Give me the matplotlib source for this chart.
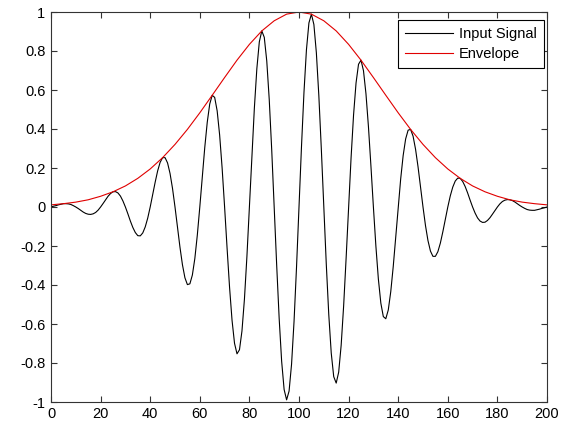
import numpy as np
import matplotlib
matplotlib.use('Agg')
import matplotlib.pyplot as plt
from matplotlib.ticker import FuncFormatter

# Input signal, one sample per unit (x = 0 ... 200)
signal = [
    0.000, 0.004, 0.007, 0.011, 0.014, 0.017, 0.017, 0.016, 0.013, 0.007,
    0.000, -0.008, -0.017, -0.026, -0.033, -0.037, -0.038, -0.035, -0.028, -0.016,
    0.000, 0.018, 0.037, 0.055, 0.069, 0.078, 0.079, 0.072, 0.056, 0.031,
    0.000, -0.035, -0.072, -0.105, -0.131, -0.147, -0.148, -0.133, -0.102, -0.057,
    0.000, 0.064, 0.127, 0.185, 0.229, 0.253, 0.253, 0.226, 0.172, 0.095,
    0.000, -0.104, -0.206, -0.296, -0.363, -0.398, -0.394, -0.349, -0.264, -0.144,
    0.000, 0.155, 0.305, 0.434, 0.528, 0.573, 0.562, 0.493, 0.369, 0.200,
    0.000, -0.211, -0.412, -0.581, -0.699, -0.753, -0.732, -0.636, -0.472, -0.253,
    0.000, 0.262, 0.507, 0.709, 0.847, 0.903, 0.870, 0.749, 0.551, 0.293,
    0.000, -0.298, -0.571, -0.791, -0.936, -0.989, -0.944, -0.806, -0.587, -0.309,
    0.000, 0.309, 0.587, 0.806, 0.944, 0.989, 0.936, 0.791, 0.571, 0.298,
    0.000, -0.293, -0.551, -0.749, -0.870, -0.903, -0.847, -0.709, -0.507, -0.262,
    0.000, 0.253, 0.472, 0.636, 0.732, 0.753, 0.699, 0.581, 0.412, 0.211,
    0.000, -0.200, -0.369, -0.493, -0.562, -0.573, -0.528, -0.434, -0.305, -0.155,
    0.000, 0.144, 0.264, 0.349, 0.394, 0.398, 0.363, 0.296, 0.206, 0.104,
    0.000, -0.095, -0.172, -0.226, -0.253, -0.253, -0.229, -0.185, -0.127, -0.064,
    0.000, 0.057, 0.102, 0.133, 0.148, 0.147, 0.131, 0.105, 0.072, 0.035,
    0.000, -0.031, -0.056, -0.072, -0.079, -0.078, -0.069, -0.055, -0.037, -0.018,
    0.000, 0.016, 0.028, 0.035, 0.038, 0.037, 0.033, 0.026, 0.017, 0.008,
    0.000, -0.007, -0.013, -0.016, -0.017, -0.017, -0.014, -0.011, -0.007, -0.004,
    0.000,
]

# Envelope, one value every 5 units (x = 0, 5, ... 200)
envelope = [
    0.011, 0.017, 0.025, 0.037, 0.055, 0.078, 0.108, 0.147, 0.195, 0.253,
    0.321, 0.398, 0.483, 0.573, 0.664, 0.753, 0.834, 0.903, 0.955, 0.989,
    1.000,
    0.989, 0.955, 0.903, 0.834, 0.753, 0.664, 0.573, 0.483, 0.398, 0.321,
    0.253, 0.195, 0.147, 0.108, 0.078, 0.055, 0.037, 0.025, 0.017, 0.011,
]

signal_x = np.arange(len(signal))
envelope_x = np.arange(len(envelope)) * 5

x_ticks = [0, 20, 40, 60, 80, 100, 120, 140, 160, 180, 200]
y_ticks = [-1, -0.8, -0.6, -0.4, -0.2, 0, 0.2, 0.4, 0.6, 0.8, 1]

plt.rcParams['font.family'] = ['Liberation Sans', 'DejaVu Sans']
plt.rcParams['font.size'] = 10

fig = plt.figure(figsize=(5.66, 4.22), dpi=100)
ax = fig.add_axes([51 / 566, 20 / 422, 496 / 566, 390 / 422])

ax.plot(signal_x, signal, color='black', linewidth=0.8, label='Input Signal')
ax.plot(envelope_x, envelope, color='#e00000', linewidth=0.8, label='Envelope')

ax.set_xlim(0, 200)
ax.set_ylim(-1, 1)
ax.set_xticks(x_ticks)
ax.set_yticks(y_ticks)
ax.yaxis.set_major_formatter(FuncFormatter(lambda v, p: '%g' % round(v, 2)))

ax.tick_params(direction='in', top=True, right=True, length=4, width=0.8,
               labelsize=10.5, color='#333333')
ax.tick_params(axis='y', pad=4)
ax.tick_params(axis='x', pad=3.5)
for s in ax.spines.values():
    s.set_linewidth(0.8)
    s.set_color('#333333')

leg = ax.legend(loc='upper right', bbox_to_anchor=(0.994, 0.98),
                borderaxespad=0, fancybox=False, framealpha=1,
                edgecolor='black', handlelength=3.3, handletextpad=0.4,
                labelspacing=0.4, borderpad=0.5, fontsize=10.5)
leg.get_frame().set_linewidth(0.8)

fig.savefig('out.png', dpi=100)
